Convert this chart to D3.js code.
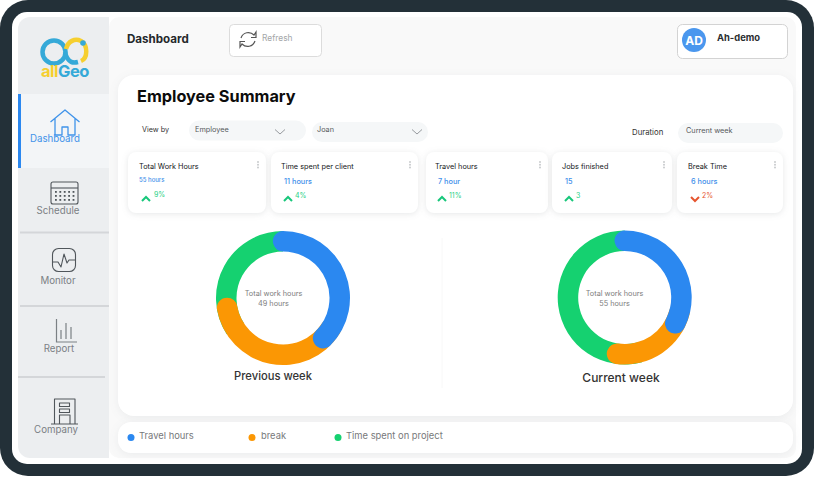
<!DOCTYPE html>
<html>
<head>
<meta charset="utf-8">
<script src="https://cdnjs.cloudflare.com/ajax/libs/d3/7.8.5/d3.min.js"></script>
<style>
  html, body { margin: 0; padding: 0; background: #fff; }
  svg { display: block; }
  text { font-family: Inter, "Noto Sans", sans-serif; }
  .soft { filter: drop-shadow(0 1px 3px rgba(60,70,80,.13)); }
  .softer { filter: drop-shadow(0 2px 5px rgba(60,70,80,.07)); }
</style>
</head>
<body>
<svg id="chart" width="814" height="477"></svg>
<script>
// chart data
const segments = ["Travel hours", "break", "Time spent on project"];
const segmentColors = ["#2b88f0", "#fb9704", "#15d170"];
const previousWeek = [18.4, 17, 13.6];
const currentWeek = [17.9, 10.8, 26.3];
const previousTotal = "49 hours";
const currentTotal = "55 hours";

// kpi cards
const kpiTitles = ["Total Work Hours", "Time spent per client", "Travel hours", "Jobs finished", "Break Time"];
const kpiValues = ["55 hours", "11 hours", "7 hour", "15", "6 hours"];
const kpiChanges = ["9%", "4%", "11%", "3", "2%"];
const kpiDirections = ["up", "up", "up", "up", "down"];

const navLabels = ["Dashboard", "Schedule", "Monitor", "Report", "Company"];

const svg = d3.select("#chart");

// bezel and screen
svg.append("rect").attr("x", 0).attr("y", 0).attr("width", 814).attr("height", 476).attr("rx", 28).attr("fill", "#233038");
svg.append("rect").attr("x", 12).attr("y", 12).attr("width", 790).attr("height", 452).attr("rx", 15).attr("fill", "#ffffff");
svg.append("rect").attr("x", 109).attr("y", 17).attr("width", 687).attr("height", 441).attr("rx", 10).attr("fill", "#f9f9f9");

// sidebar
svg.append("rect").attr("x", 18).attr("y", 17).attr("width", 91).attr("height", 441).attr("rx", 12).attr("fill", "#eceef0");
svg.append("rect").attr("x", 98).attr("y", 17).attr("width", 11).attr("height", 441).attr("fill", "#eceef0");
svg.append("rect").attr("x", 18).attr("y", 94).attr("width", 91).attr("height", 74).attr("fill", "#f3f5f7");
svg.append("rect").attr("x", 18).attr("y", 94).attr("width", 3).attr("height", 74).attr("fill", "#2b88f0");
[[20, 109, 232.5], [20, 109, 306], [18, 105, 377]].forEach(d => {
  svg.append("line").attr("x1", d[0]).attr("x2", d[1]).attr("y1", d[2]).attr("y2", d[2])
    .attr("stroke", "#d4d6d9").attr("stroke-width", 2);
});

// logo
const logo = svg.append("g").attr("fill", "none").attr("stroke-width", 4.5);
logo.append("circle").attr("cx", 54).attr("cy", 52).attr("r", 11.5).attr("stroke", "#35a9d8");
logo.append("path").attr("d", "M65 52 C68 64 74 63 78 62").attr("stroke", "#35a9d8");
logo.append("path").attr("d", "M66 49 C68 41 75 38 81 41 C88 45 88 58 81 61").attr("stroke", "#f6cf2f");
logo.append("circle").attr("cx", 83).attr("cy", 43).attr("r", 2.8).attr("fill", "#35a9d8").attr("stroke", "none");
const logoText = svg.append("text").attr("x", 41).attr("y", 77).attr("font-size", 16.5).attr("font-weight", 700).attr("letter-spacing", -0.5);
logoText.append("tspan").attr("fill", "#f6cf2f").text("all");
logoText.append("tspan").attr("fill", "#35a9d8").text("Geo");

// nav labels
const navX = [55, 58, 58, 59, 56];
const navY = [142, 214, 284, 352, 433];
svg.selectAll(".nav").data(navLabels).join("text").attr("class", "nav")
  .attr("x", (d, i) => navX[i]).attr("y", (d, i) => navY[i])
  .attr("text-anchor", "middle").attr("font-size", 9.7)
  .attr("fill", (d, i) => i === 0 ? "#3f93ea" : "#7b8084")
  .text(d => d);

// nav icons
const icons = svg.append("g").attr("fill", "none").attr("stroke", "#50565b").attr("stroke-width", 1.1);
icons.append("path").attr("d", "M50.5 122 L65 110 L79.5 122 M55 118 V135 H62 V127 H68 V135 H75 V118").attr("stroke", "#3f93ea").attr("stroke-width", 1.3);
icons.append("rect").attr("x", 51).attr("y", 182).attr("width", 27).attr("height", 22).attr("rx", 2);
icons.append("line").attr("x1", 51).attr("x2", 78).attr("y1", 188).attr("y2", 188);
const calRows = d3.range(3), calCols = d3.range(5);
calRows.forEach(r => calCols.forEach(c => {
  icons.append("rect").attr("x", 55 + c * 4.4).attr("y", 191 + r * 4).attr("width", 1.8).attr("height", 1.8).attr("fill", "#50565b").attr("stroke", "none");
}));
icons.append("rect").attr("x", 52.5).attr("y", 248.5).attr("width", 23).attr("height", 23).attr("rx", 6);
icons.append("path").attr("d", "M53 262 H58 L61 267 L64 254 L67 263 L69 260 H75");
icons.attr("stroke-linejoin", "round");
const report = svg.append("g").attr("stroke", "#7b8084").attr("fill", "none").attr("stroke-width", 1.2);
report.append("path").attr("d", "M56.5 319 V342 H77");
report.append("line").attr("x1", 61).attr("x2", 61).attr("y1", 330).attr("y2", 339);
report.append("line").attr("x1", 66).attr("x2", 66).attr("y1", 323).attr("y2", 339);
report.append("line").attr("x1", 71).attr("x2", 71).attr("y1", 327).attr("y2", 339);
icons.append("path").attr("d", "M51 424 H78 M54.5 424 V399 H75 V424");
icons.append("rect").attr("x", 59.5).attr("y", 403).attr("width", 10).attr("height", 3.5);
icons.append("rect").attr("x", 59.5).attr("y", 409).attr("width", 10).attr("height", 3.5);
icons.append("path").attr("d", "M59.5 424 V415 H70 V424");

// header
svg.append("text").attr("x", 127).attr("y", 43).attr("font-family", "Open Sans").attr("font-weight", 700).attr("font-size", 11.6).attr("fill", "#25282b").text("Dashboard");
svg.append("rect").attr("x", 229.5).attr("y", 24.5).attr("width", 92).attr("height", 32).attr("rx", 4).attr("fill", "#fff").attr("stroke", "#dcdcdc");
const refresh = svg.append("g").attr("fill", "none").attr("stroke", "#555").attr("stroke-width", 1.2);
refresh.append("path").attr("d", "M241 38 C243 32 250 31 254 35 L256 32 V37.5 H251");
refresh.append("path").attr("d", "M255 41 C253 47 246 48 242 44 L240 47 V41.5 H245");
svg.append("text").attr("x", 262).attr("y", 41).attr("font-family", "Open Sans").attr("font-size", 8.4).attr("fill", "#a3a6a8").text("Refresh");
svg.append("rect").attr("x", 677.5).attr("y", 24.5).attr("width", 110).attr("height", 34).attr("rx", 5).attr("fill", "#fff").attr("stroke", "#d3d3d3");
svg.append("circle").attr("cx", 694).attr("cy", 40).attr("r", 12).attr("fill", "#4a97ee");
svg.append("text").attr("x", 694).attr("y", 44.5).attr("text-anchor", "middle").attr("font-family", "Open Sans").attr("font-weight", 700).attr("font-size", 12).attr("fill", "#fff").text("AD");
svg.append("text").attr("x", 717).attr("y", 41).attr("font-family", "Open Sans").attr("font-weight", 700).attr("font-size", 9.4).attr("fill", "#2b2e30").text("Ah-demo");

// main panels
svg.append("rect").attr("class", "softer").attr("x", 118).attr("y", 75).attr("width", 675).attr("height", 341).attr("rx", 16).attr("fill", "#fff");
svg.append("rect").attr("class", "softer").attr("x", 118).attr("y", 422).attr("width", 675).attr("height", 31).attr("rx", 13).attr("fill", "#fff");
svg.append("text").attr("x", 137).attr("y", 102).attr("font-weight", 700).attr("font-size", 16.3).attr("fill", "#0c0c0c").text("Employee Summary");

// filters
svg.append("text").attr("x", 142).attr("y", 132).attr("font-size", 7.2).attr("fill", "#333").text("View by");
const pillX = [189, 312, 678], pillW = [117, 116, 105], pillY = [120.5, 122, 123];
const pillDx = [6, 5, 8];
const pillLabels = ["Employee", "Joan", "Current week"];
svg.selectAll(".pill").data(pillLabels).join("rect").attr("class", "pill")
  .attr("x", (d, i) => pillX[i]).attr("y", (d, i) => pillY[i]).attr("width", (d, i) => pillW[i]).attr("height", 20).attr("rx", 10).attr("fill", "#f5f7f8");
svg.selectAll(".pillText").data(pillLabels).join("text").attr("class", "pillText")
  .attr("x", (d, i) => pillX[i] + pillDx[i]).attr("y", (d, i) => pillY[i] + (i === 0 ? 11.5 : 10))
  .attr("font-size", 7.3).attr("fill", "#55595c").text(d => d);
[280, 417].forEach(x => {
  svg.append("path").attr("d", `M${x - 5} 129.5 L${x} 134 L${x + 5} 129.5`).attr("fill", "none").attr("stroke", "#8c9094").attr("stroke-width", 0.9);
});
svg.append("text").attr("x", 632).attr("y", 134.5).attr("font-size", 7.8).attr("fill", "#333").text("Duration");

// kpi cards
const cardX = [128, 271, 426, 552, 677], cardW = [138, 147, 122, 120, 106];
const textDx = [11, 10, 9, 10, 11];
const valueY = [181.5, 184, 184, 184, 184];
const cards = svg.selectAll(".card").data(kpiTitles).join("g").attr("class", "card")
  .attr("transform", (d, i) => `translate(${cardX[i]},152)`);
cards.append("rect").attr("class", "soft").attr("width", (d, i) => cardW[i]).attr("height", 61).attr("rx", 8).attr("fill", "#fff");
cards.append("text").attr("x", (d, i) => textDx[i]).attr("y", 17).attr("font-size", 7.3).attr("font-weight", 400).attr("fill", "#141618").text(d => d);
cards.append("text").attr("x", (d, i) => textDx[i] + (i === 0 ? 0 : 3)).attr("y", (d, i) => valueY[i] - 152)
  .attr("font-size", (d, i) => i === 0 ? 6 : 7.3).attr("font-weight", 500).attr("fill", "#3f8fea").text((d, i) => kpiValues[i]);
cards.append("path")
  .attr("d", (d, i) => {
    const x = textDx[i] + 3;
    return kpiDirections[i] === "up" ? `M${x} 49 L${x + 4} 45 L${x + 8} 49` : `M${x} 45 L${x + 4} 49 L${x + 8} 45`;
  })
  .attr("fill", "none").attr("stroke-width", 2).attr("stroke", (d, i) => kpiDirections[i] === "up" ? "#18c77b" : "#e6552f");
cards.append("text").attr("x", (d, i) => textDx[i] + (i === 0 ? 15 : 14)).attr("y", (d, i) => i === 0 ? 45 : 45.5)
  .attr("font-size", 7).attr("fill", (d, i) => kpiDirections[i] === "up" ? "#27cf86" : "#e6552f").text((d, i) => kpiChanges[i]);
cards.selectAll(".dot").data((d, i) => [i, i, i].map((c, j) => ({ c: c, j: j }))).join("circle").attr("class", "dot")
  .attr("cx", d => cardW[d.c] - 8).attr("cy", d => 10 + d.j * 2.8).attr("r", 1).attr("fill", "#c9cbcd");

// divider between donuts
svg.append("line").attr("x1", 442).attr("x2", 442).attr("y1", 238).attr("y2", 388).attr("stroke", "#f8f8f8");

// donuts
const outerR = 67, innerR = 46.5;
const capAngle = 10.2 / ((outerR + innerR) / 2);
const pie = d3.pie().sort(null);
const arcGen = d3.arc().innerRadius(innerR).outerRadius(outerR);
const capArc = d3.arc().innerRadius(innerR).outerRadius(outerR).cornerRadius(10.2);

function drawDonut(cx, cy, values, title, total, titleX, titleY, labelX) {
  const g = svg.append("g").attr("transform", `translate(${cx},${cy})`);
  const p = pie(values);
  // green sits underneath, orange and blue overlap with rounded ends
  g.append("path").attr("d", arcGen({ startAngle: p[2].startAngle - 0.4, endAngle: p[2].endAngle })).attr("fill", segmentColors[2]);
  g.append("path").attr("d", capArc({ startAngle: p[1].startAngle - 0.4, endAngle: p[1].endAngle + capAngle })).attr("fill", segmentColors[1]);
  g.append("path").attr("d", capArc({ startAngle: p[0].startAngle - capAngle, endAngle: p[0].endAngle + capAngle })).attr("fill", segmentColors[0]);
  svg.append("text").attr("x", labelX).attr("y", cy - 2).attr("text-anchor", "middle").attr("font-size", 7.3).attr("fill", "#7d7d7d").text("Total work hours");
  svg.append("text").attr("x", labelX).attr("y", cy + 8).attr("text-anchor", "middle").attr("font-size", 7.3).attr("fill", "#7d7d7d").text(total);
  svg.append("text").attr("x", titleX).attr("y", titleY).attr("text-anchor", "middle").attr("font-weight", 500).attr("font-size", titleY > 380.5 ? 12 : 11.2).attr("fill", "#333").text(title);
}
drawDonut(283, 298, previousWeek, "Previous week", previousTotal, 273, 380, 273.5);
drawDonut(624.7, 297.5, currentWeek, "Current week", currentTotal, 621, 381.5, 614.5);

// legend
const legendDotX = [131, 252, 338], legendTextX = [139, 261, 346];
svg.selectAll(".legDot").data(segments).join("circle").attr("class", "legDot")
  .attr("cx", (d, i) => legendDotX[i]).attr("cy", 437.5).attr("r", 3.5).attr("fill", (d, i) => segmentColors[i]);
svg.selectAll(".legText").data(segments).join("text").attr("class", "legText")
  .attr("x", (d, i) => legendTextX[i]).attr("y", 439).attr("font-size", 9.4).attr("fill", "#77797b").text(d => d);
</script>
</body>
</html>
